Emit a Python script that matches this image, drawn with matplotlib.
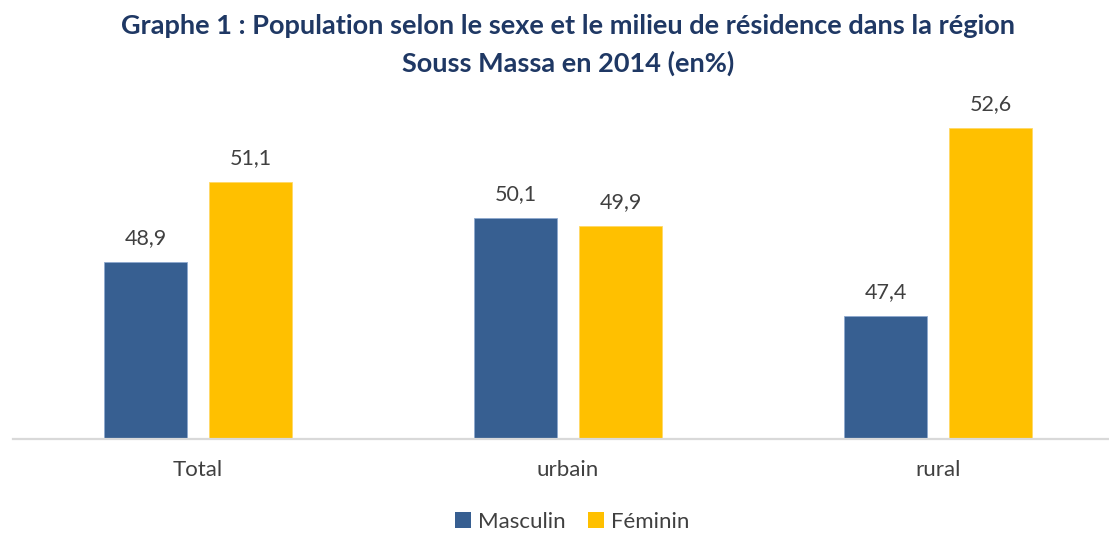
import matplotlib
matplotlib.use("Agg")
import matplotlib.pyplot as plt
from matplotlib.patches import Patch
import numpy as np

categories = ["Total", "urbain", "rural"]
masculin = [48.9, 50.1, 47.4]
feminin = [51.1, 49.9, 52.6]
series_names = ["Masculin", "Féminin"]
colors = ["#375F91", "#FFC000"]

W, H = 1109, 533
fig = plt.figure(figsize=(W / 100, H / 100), dpi=100)
base_y = 439
top_y = 439 - 10 * 36.15
ax = fig.add_axes([13 / W, (H - base_y) / H, (W - 13) / W, (base_y - top_y) / H])

x = np.arange(len(categories))
bw = 0.224
off = 0.142
b1 = ax.bar(x - off, masculin, bw, color=colors[0], edgecolor="#8EA9CF", linewidth=0.6, zorder=2)
b2 = ax.bar(x + off, feminin, bw, color=colors[1], edgecolor="#FFD966", linewidth=0.6, zorder=2)

ax.set_ylim(44, 54)
ax.set_xlim(-0.5, -0.5 + (W - 13) / 370)

font = "Lato"
for bars, vals in ((b1, masculin), (b2, feminin)):
    for rect, v in zip(bars, vals):
        ax.annotate(f"{v:.1f}".replace(".", ","), (rect.get_x() + rect.get_width() / 2, v),
                    xytext=(0, 14), textcoords="offset pixels", ha="center", va="bottom",
                    fontsize=15.5, color="#404040", family=font)

for s in ["top", "right", "left"]:
    ax.spines[s].set_visible(False)
ax.spines["bottom"].set_color("#D9D9D9")
ax.spines["bottom"].set_linewidth(1.6)
ax.set_yticks([])
ax.set_xticks(x)
ax.set_xticklabels(categories, fontsize=16, color="#404040", family=font)
ax.tick_params(axis="x", length=0, pad=15)

fig.text(568 / W, 1 - 26 / H, "Graphe 1 : Population selon le sexe et le milieu de résidence dans la région",
         ha="center", va="center", fontsize=19.5, fontweight="bold", color="#1F3864", family=font)
fig.text(568 / W, 1 - 63 / H, "Souss Massa en 2014 (en%)",
         ha="center", va="center", fontsize=19.5, fontweight="bold", color="#1F3864", family=font)

handles = [Patch(facecolor=c, edgecolor="none") for c in colors]
fig.legend(handles, series_names, loc="center", bbox_to_anchor=(572 / W, 1 - 522 / H), ncol=2,
           frameon=False, prop={"family": font, "size": 16}, labelcolor="#404040",
           handlelength=0.75, handleheight=0.75, handletextpad=0.3, columnspacing=1.0)

fig.savefig("out.png", dpi=100)
